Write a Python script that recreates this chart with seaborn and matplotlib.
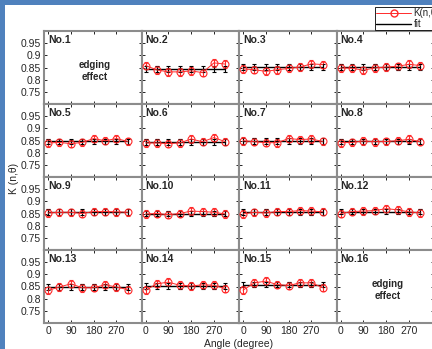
import matplotlib
matplotlib.use("Agg")
import matplotlib.pyplot as plt
from matplotlib.patches import Rectangle
from matplotlib.lines import Line2D
import pandas as pd
import seaborn as sns

# 角度 (degree)
angles = [0, 45, 90, 135, 180, 225, 270, 315]

# K(n,theta) 读数, 每个面板一组
k_no2 = [0.858, 0.840, 0.832, 0.832, 0.836, 0.829, 0.869, 0.864]
k_no3 = [0.844, 0.841, 0.834, 0.841, 0.846, 0.852, 0.865, 0.862]
k_no4 = [0.848, 0.847, 0.839, 0.848, 0.852, 0.855, 0.863, 0.858]
k_no5 = [0.840, 0.842, 0.837, 0.842, 0.858, 0.849, 0.858, 0.846]
k_no6 = [0.840, 0.840, 0.837, 0.840, 0.856, 0.845, 0.862, 0.845]
k_no7 = [0.849, 0.845, 0.841, 0.841, 0.858, 0.854, 0.856, 0.846]
k_no8 = [0.841, 0.842, 0.848, 0.845, 0.846, 0.849, 0.855, 0.845]
k_no9 = [0.852, 0.855, 0.855, 0.850, 0.858, 0.858, 0.857, 0.855]
k_no10 = [0.848, 0.850, 0.845, 0.850, 0.860, 0.858, 0.855, 0.848]
k_no11 = [0.848, 0.855, 0.852, 0.858, 0.858, 0.862, 0.860, 0.857]
k_no12 = [0.850, 0.858, 0.860, 0.862, 0.870, 0.865, 0.857, 0.852]
k_no13 = [0.834, 0.848, 0.861, 0.845, 0.845, 0.857, 0.848, 0.837]
k_no14 = [0.835, 0.861, 0.868, 0.855, 0.852, 0.857, 0.855, 0.841]
k_no15 = [0.835, 0.865, 0.872, 0.858, 0.854, 0.865, 0.865, 0.845]

# 拟合值 (No.1 和 No.16 为边缘效应, 无数据)
fit_values = [None, 0.845, 0.851, 0.851,
              0.846, 0.845, 0.849, 0.846,
              0.855, 0.850, 0.855, 0.858,
              0.848, 0.852, 0.858, None]

k_err = [0.016, 0.015, 0.015, 0.016, 0.015, 0.015, 0.016, 0.015]
fit_err = [0.012, 0.012, 0.012, 0.012, 0.012, 0.012, 0.012, 0.012]

panel_data = [None, k_no2, k_no3, k_no4, k_no5, k_no6, k_no7, k_no8,
              k_no9, k_no10, k_no11, k_no12, k_no13, k_no14, k_no15, None]

x_ticks = [0, 90, 180, 270]
y_ticks = [0.75, 0.8, 0.85, 0.9, 0.95]
y_tick_labels = ['0.75', '0.8', '0.85', '0.9', '0.95']

sns.set_style("ticks")
plt.rcParams['font.family'] = ['Liberation Sans', 'DejaVu Sans']

RED = '#ff2a2a'
W, H = 432, 349

fig = plt.figure(figsize=(W / 100, H / 100), dpi=100)
axes = fig.subplots(4, 4, sharex=True, sharey=True,
                    gridspec_kw=dict(left=44 / W, right=434 / W,
                                     top=1 - 31 / H, bottom=1 - 323 / H,
                                     wspace=0, hspace=0))

for i, ax in enumerate(axes.flat):
    n = i + 1
    vals = panel_data[i]
    if vals is not None:
        df = pd.DataFrame({'angle': angles, 'K': vals})
        fit = fit_values[i]
        # 拟合线 + 黑色误差棒
        ax.errorbar(angles, [fit] * len(angles), yerr=fit_err, fmt='none',
                    ecolor='black', elinewidth=0.8, capsize=1.5, capthick=0.8, zorder=3)
        sns.lineplot(x=[angles[0], angles[-1]], y=[fit, fit], ax=ax,
                     color='black', linewidth=1.0, zorder=4)
        # 测量值
        ax.errorbar(angles, vals, yerr=k_err, fmt='none', ecolor=RED,
                    elinewidth=0.8, capsize=1.5, capthick=0.8, zorder=2)
        sns.lineplot(data=df, x='angle', y='K', ax=ax, color=RED, linewidth=0.7,
                     marker='o', markersize=5, markerfacecolor='none',
                     markeredgecolor=RED, markeredgewidth=0.8, zorder=5)
    else:
        ax.text(0.52, 0.45, 'edging\neffect', transform=ax.transAxes,
                ha='center', va='center', fontsize=7, fontweight='bold',
                linespacing=1.2)
    ax.text(0.04, 0.95, f'No.{n}', transform=ax.transAxes, ha='left', va='top',
            fontsize=7.5, fontweight='bold')
    ax.set_xlabel('')
    ax.set_ylabel('')
    for sp in ax.spines.values():
        sp.set_color('#8c8c8c')
        sp.set_linewidth(1.5)
    ax.tick_params(direction='in', top=True, right=True, length=2.5,
                   width=0.6, color='black', labelsize=7.5, pad=2)

axes[0, 0].set_xlim(-16, 369)
axes[0, 0].set_ylim(0.7, 1.0)
axes[0, 0].set_xticks(x_ticks)
axes[0, 0].set_yticks(y_ticks)
axes[0, 0].set_yticklabels(y_tick_labels)
for ax in axes[-1, :]:
    ax.set_xticklabels([str(t) for t in x_ticks])

fig.text(14 / W, 1 - 178 / H, 'K (n,θ)', rotation=90, ha='center', va='center',
         fontsize=7.5)
fig.text(239 / W, 1 - 344 / H, 'Angle (degree)', ha='center', va='center',
         fontsize=7.5)

handles = [Line2D([], [], color=RED, linewidth=0.7, marker='o', markersize=5,
                  markerfacecolor='none', markeredgecolor=RED),
           Line2D([], [], color='black', linewidth=1.0)]
leg = fig.legend(handles, ['K(n,θ)', 'fit'], loc='upper left',
                 bbox_to_anchor=(375 / W, 1 - 7 / H), fontsize=7,
                 frameon=True, fancybox=False, framealpha=1, edgecolor='black',
                 borderpad=0.15, labelspacing=0.05, handlelength=3.6,
                 handletextpad=0.2, borderaxespad=0)
leg.get_frame().set_linewidth(0.6)

# 截图的蓝色边框
blue = '#4f81bd'
fig.patches.append(Rectangle((0, 0), 5 / W, 1, transform=fig.transFigure,
                             facecolor=blue, edgecolor='none', zorder=10))
fig.patches.append(Rectangle((0, 1 - 5 / H), 1, 5 / H, transform=fig.transFigure,
                             facecolor=blue, edgecolor='none', zorder=10))

fig.savefig('out.png', dpi=100)
